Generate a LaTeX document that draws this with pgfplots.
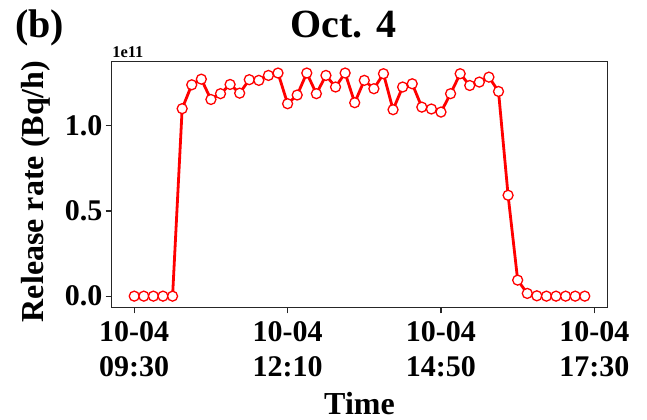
\documentclass[border=0pt]{standalone}
\usepackage{pgfplots}
\pgfplotsset{compat=1.18}
\usepackage{fontspec}
\setmainfont{Liberation Serif}
\begin{document}
\begin{tikzpicture}
\useasboundingbox (-55.85pt,-55.85pt) rectangle (267.65pt,153.65pt);
\begin{axis}[
  at={(0,0)}, anchor=south west,
  scale only axis, width=247.8pt, height=122.8pt,
  xmin=-23.5, xmax=493.5, ymin=-0.0655, ymax=1.3755,
  axis line style={black!85, line width=0.75pt},
  tick align=outside, major tick length=3pt,
  tick style={black!85, line width=0.6pt},
  xtick pos=bottom, ytick pos=left,
  xtick={0,160,320,480},
  xticklabels={{10-04\\[0.6pt]09:30},{10-04\\[0.6pt]12:10},{10-04\\[0.6pt]14:50},{10-04\\[0.6pt]17:30}},
  ytick={0,0.5,1.0},
  yticklabels={0.0,0.5,1.0},
  /pgf/number format/assume math mode=true,
  xticklabel style={align=center, anchor=north, inner sep=0pt, font=\fontsize{15}{16.8}\selectfont\bfseries, yshift=-4pt},
  yticklabel style={anchor=east, inner sep=0pt, font=\fontsize{15}{16.8}\selectfont\bfseries, xshift=-1.5pt},
  xlabel={Time},
  ylabel={Release rate (Bq/h)},
  every axis x label/.style={at={(axis description cs:0.5,-0.4344)}, anchor=base, font=\fontsize{16}{18}\selectfont\bfseries},
  every axis y label/.style={at={(axis description cs:-0.1386,0.4715)}, rotate=90, anchor=base, font=\fontsize{16}{18}\selectfont\bfseries},
]
\addplot[red, line width=1.4pt, mark=*, mark size=2.5pt,
  mark options={fill=white, draw=red, line width=0.65pt}] table {
x y
0 0
10 0
20 0
30 0
40 0
50 1.100
60 1.240
70 1.273
80 1.154
90 1.188
100 1.242
110 1.191
120 1.270
130 1.266
140 1.295
150 1.309
160 1.129
170 1.180
180 1.309
190 1.188
200 1.295
210 1.227
220 1.309
230 1.135
240 1.266
250 1.217
260 1.305
270 1.094
280 1.227
290 1.246
300 1.109
310 1.098
320 1.080
330 1.188
340 1.305
350 1.236
360 1.256
370 1.285
380 1.201
390 0.592
400 0.094
410 0.016
420 0.002
430 0
440 0
450 0
460 0
470 0
};
\end{axis}
\node[anchor=base, font=\fontsize{20}{24}\selectfont\bfseries, inner sep=0pt] at (115.9pt,135.15pt) {Oct. 4};
\node[anchor=base west, font=\fontsize{20}{24}\selectfont\bfseries, inner sep=0pt] at (-48.35pt,135.15pt) {(b)};
\node[anchor=base west, font=\fontsize{8.2}{10}\selectfont\bfseries, inner sep=0pt] at (0.15pt,125.15pt) {1e11};
\end{tikzpicture}
\end{document}
